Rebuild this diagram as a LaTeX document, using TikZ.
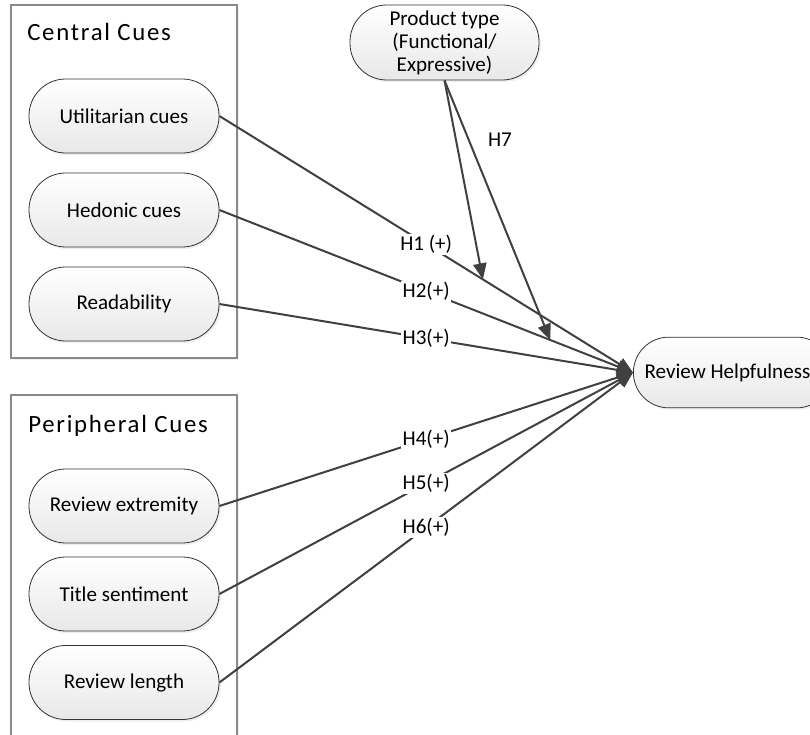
\documentclass[tikz,border=0pt]{standalone}
\usepackage{fontspec}
\setmainfont{Carlito}
\usetikzlibrary{arrows.meta,shadows}
\usepackage{xcolor}
\definecolor{Ink}{HTML}{404040}
\definecolor{Frame}{HTML}{8A8A8A}

\begin{document}
\begin{tikzpicture}[x=0.75pt,y=-0.75pt,
    font=\fontsize{15.8}{17.25}\selectfont,
    cue/.style={draw=black!80,line width=0.6pt,rounded corners=27.5pt,
      minimum width=142.5pt,minimum height=55.5pt,inner sep=0pt,
      top color=white,bottom color=black!9,
      drop shadow={shadow xshift=1.5pt,shadow yshift=-1.5pt,opacity=0.12}},
    group/.style={draw=Frame,line width=0.8pt,fill=white,inner sep=0pt,
      minimum width=169.5pt,
      drop shadow={shadow xshift=1.5pt,shadow yshift=-1.5pt,opacity=0.1}},
    title/.style={anchor=base west,inner sep=0pt,
      font=\fontsize{18.6}{20}\selectfont\addfontfeature{LetterSpace=7}},
    hyp/.style={fill=white,inner sep=1pt},
    link/.style={draw=Ink,line width=1.5pt,-{Triangle[length=12pt,width=10pt]}}]
    \useasboundingbox (0,0) rectangle (810,735);

    % central route
    \node[group,minimum height=264.75pt] (central) at (124,181.5) {};
    \node[title] (ctitle) at (27,41) {Central Cues};
    \node[cue] (util) at (124,116) {Utilitarian cues};
    \node[cue] (hedo) at (124,210) {Hedonic cues};
    \node[cue] (read) at (124,304) {Readability};

    % peripheral route
    \node[group,minimum height=262.5pt] (periph) at (124,570) {};
    \node[title] (ptitle) at (28,432) {Peripheral Cues};
    \node[cue] (extr) at (124,506) {Review extremity};
    \node[cue] (titl) at (124,594) {Title sentiment};
    \node[cue] (leng) at (124,682.5) {Review length};

    \node[cue,align=center,minimum width=141.75pt,minimum height=56.25pt]
      (ptype) at (444.5,42.5) {Product type\\(Functional/\\Expressive)};
    \node[cue,anchor=west,minimum width=149pt,minimum height=53pt,rounded corners=26.5pt]
      (help) at (633,372.5) {Review Helpfulness\hspace*{8pt}};

    \draw[link] (util.east) -- node[hyp]{H1 (+)} coordinate[pos=0.637] (m1) (help.west);
    \draw[link] (hedo.east) -- node[hyp]{H2(+)} coordinate[pos=0.80] (m2) (help.west);
    \draw[link] (read.east) -- node[hyp]{H3(+)} (help.west);
    \draw[link] (extr.east) -- node[hyp]{H4(+)} (help.west);
    \draw[link] (titl.east) -- node[hyp]{H5(+)} (help.west);
    \draw[link] (leng.east) -- node[hyp]{H6(+)} (help.west);

    % moderator
    \draw[link] (ptype.south) -- (m1);
    \draw[link] (ptype.south) -- (m2);
    \node (h7) at (500,140) {H7};
  \end{tikzpicture}
\end{document}
